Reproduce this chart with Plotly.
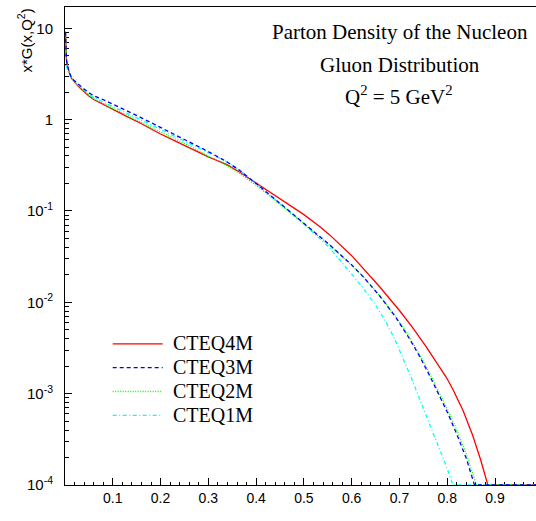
import plotly.graph_objects as go

# ---------------- data ----------------
series_names = ["CTEQ4M", "CTEQ3M", "CTEQ2M", "CTEQ1M"]

x_cteq4m = [0.001, 0.002, 0.003, 0.004, 0.006, 0.008, 0.010, 0.013, 0.018, 0.025,
            0.032, 0.04, 0.05, 0.06, 0.075, 0.09, 0.11, 0.129, 0.16, 0.199,
            0.23, 0.268, 0.30, 0.338, 0.366, 0.408, 0.463, 0.50, 0.533, 0.554,
            0.60, 0.658, 0.70, 0.728, 0.755, 0.777, 0.798, 0.812, 0.833, 0.853,
            0.87, 0.885, 0.95, 1.0]
y_cteq4m = [8.91, 5.13, 4.52, 4.12, 3.63, 3.31, 3.11, 2.87, 2.63, 2.40,
            2.21, 2.02, 1.81, 1.66, 1.51, 1.38, 1.22, 1.087, 0.902, 0.70,
            0.586, 0.47, 0.391, 0.324, 0.265, 0.19, 0.122, 0.0912, 0.0676, 0.0547,
            0.0324, 0.0149, 0.00813, 0.00525, 0.00331, 0.00224, 0.00151, 0.00111, 6.55e-4, 3.52e-4,
            1.88e-4, 1e-4, 1e-4, 1e-4]

x_cteq3m = [0.001, 0.002, 0.003, 0.004, 0.006, 0.008, 0.010, 0.013, 0.018, 0.025,
            0.032, 0.04, 0.05, 0.06, 0.075, 0.09, 0.11, 0.129, 0.16, 0.199,
            0.23, 0.268, 0.30, 0.338, 0.366, 0.408, 0.463, 0.50, 0.533, 0.554,
            0.60, 0.624, 0.66, 0.693, 0.72, 0.742, 0.763, 0.784, 0.80, 0.819,
            0.84, 0.857, 0.90, 0.95, 1.0]
y_cteq3m = [9.18, 5.25, 4.62, 4.22, 3.72, 3.39, 3.20, 2.95, 2.72, 2.51,
            2.34, 2.16, 1.97, 1.83, 1.70, 1.57, 1.40, 1.253, 1.047, 0.826,
            0.692, 0.552, 0.447, 0.348, 0.277, 0.185, 0.107, 0.0741, 0.0526, 0.0425,
            0.0257, 0.0191, 0.0115, 0.00676, 0.00407, 0.00257, 0.00158, 9.5e-4, 6.3e-4, 3.7e-4,
            1.95e-4, 1e-4, 1e-4, 1e-4, 1e-4]

x_cteq2m = [0.001, 0.002, 0.003, 0.004, 0.006, 0.008, 0.010, 0.013, 0.018, 0.025,
            0.032, 0.04, 0.05, 0.06, 0.075, 0.09, 0.11, 0.129, 0.16, 0.199,
            0.23, 0.268, 0.30, 0.338, 0.366, 0.408, 0.463, 0.50, 0.533, 0.554,
            0.60, 0.624, 0.66, 0.693, 0.72, 0.742, 0.763, 0.784, 0.80, 0.819,
            0.84, 0.861, 0.90, 0.95, 1.0]
y_cteq2m = [9.02, 5.19, 4.57, 4.17, 3.67, 3.35, 3.15, 2.90, 2.66, 2.44,
            2.25, 2.06, 1.85, 1.70, 1.55, 1.42, 1.26, 1.12, 0.933, 0.736,
            0.617, 0.492, 0.398, 0.316, 0.257, 0.177, 0.1038, 0.0724, 0.0519, 0.0421,
            0.0256, 0.0191, 0.0116, 0.00692, 0.00422, 0.00269, 0.00168, 0.00102, 6.8e-4, 4.1e-4,
            2.19e-4, 1e-4, 1e-4, 1e-4, 1e-4]

x_cteq1m = [0.002, 0.003, 0.004, 0.006, 0.008, 0.010, 0.013, 0.018, 0.025,
            0.032, 0.04, 0.05, 0.06, 0.075, 0.09, 0.11, 0.129, 0.16, 0.199,
            0.23, 0.268, 0.30, 0.338, 0.366, 0.408, 0.463, 0.50, 0.533, 0.554,
            0.582, 0.624, 0.65, 0.672, 0.69, 0.707, 0.725, 0.757, 0.785, 0.80,
            0.812, 0.86, 0.90, 0.95, 1.0]
y_cteq1m = [3.98, 3.80, 3.63, 3.39, 3.20, 3.05, 2.88, 2.66, 2.45,
            2.28, 2.09, 1.90, 1.75, 1.60, 1.48, 1.32, 1.18, 0.989, 0.785,
            0.658, 0.527, 0.432, 0.347, 0.278, 0.185, 0.106, 0.0724, 0.0501, 0.0393,
            0.0263, 0.01435, 0.00933, 0.00603, 0.00398, 0.00251, 0.00148, 5.6e-4, 2.4e-4, 1.51e-4,
            1e-4, 1e-4, 1e-4, 1e-4, 1e-4]

x_tick_vals = [0.1, 0.2, 0.3, 0.4, 0.5, 0.6, 0.7, 0.8, 0.9]
x_tick_text = ["0.1", "0.2", "0.3", "0.4", "0.5", "0.6", "0.7", "0.8", "0.9"]
y_tick_vals = [1e-4, 1e-3, 1e-2, 1e-1, 1, 10]
y_tick_text = ["10<sup>-4</sup>", "10<sup>-3</sup>", "10<sup>-2</sup>",
               "10<sup>-1</sup>", "1", "10"]

# ---------------- figure ----------------
W, H = 536, 521
ML, MR, MT, MB = 65, 0, 7, 36
PW, PH = W - ML - MR, H - MT - MB

def px_x(p):
    return (p - ML) / PW

def px_y(p):
    return (H - MB - p) / PH

styles = {
    "CTEQ4M": dict(color="#ff0000", dash="solid"),
    "CTEQ3M": dict(color="#0000ff", dash="4px,3px"),
    "CTEQ2M": dict(color="#00ff00", dash="1px,1.5px"),
    "CTEQ1M": dict(color="#00ffff", dash="4px,2.5px,1px,2.5px"),
}
data_by_name = {
    "CTEQ4M": (x_cteq4m, y_cteq4m),
    "CTEQ3M": (x_cteq3m, y_cteq3m),
    "CTEQ2M": (x_cteq2m, y_cteq2m),
    "CTEQ1M": (x_cteq1m, y_cteq1m),
}
draw_order = ["CTEQ4M", "CTEQ1M", "CTEQ2M", "CTEQ3M"]

serif = "Liberation Serif, Times New Roman, serif"
sans = "Liberation Sans, Arial, sans-serif"

fig = go.Figure()
for name in draw_order:
    xs, ys = data_by_name[name]
    st = styles[name]
    label = ('<span style="font-size:21px">\u00a0</span>'
             '<span style="font-size:20px">' + name + '</span>')
    fig.add_trace(go.Scatter(
        x=xs, y=ys, mode="lines", name=label,
        line=dict(color=st["color"], dash=st["dash"], width=1.3),
        legendrank=series_names.index(name) + 1,
    ))

fig.update_xaxes(
    range=[0, (W - ML) / 477.8], showgrid=False, zeroline=False,
    showline=True, linecolor="black", linewidth=1, mirror=True,
    ticks="inside", ticklen=7, tickcolor="black", tickwidth=1,
    tickmode="array", tickvals=x_tick_vals, ticktext=x_tick_text,
    tickfont=dict(family=sans, size=14, color="black"),
    minor=dict(ticks="inside", ticklen=3.5, tickcolor="black", dtick=0.02, tick0=0, showgrid=False),
    layer="below traces",
)
fig.update_yaxes(
    type="log", range=[-4, 1.233], showgrid=False, zeroline=False,
    showline=True, linecolor="black", linewidth=1, mirror=False,
    ticks="inside", ticklen=7, tickcolor="black", tickwidth=1,
    tickmode="array", tickvals=y_tick_vals, ticktext=y_tick_text,
    tickfont=dict(family=sans, size=15, color="black"),
    ticklabelstandoff=8,
    minor=dict(ticks="inside", ticklen=4, tickcolor="black", dtick="D1", showgrid=False),
    layer="below traces",
)

annots = [
    dict(text="Parton Density of the Nucleon", x=px_x(399.5), y=px_y(32), size=21),
    dict(text="Gluon Distribution", x=px_x(400), y=px_y(65), size=21),
    dict(text="Q<sup>2</sup> = 5 GeV<sup>2</sup>", x=px_x(399), y=px_y(95), size=21),
]
for a in annots:
    fig.add_annotation(text=a["text"], x=a["x"], y=a["y"], xref="paper", yref="paper",
                       xanchor="center", yanchor="middle", showarrow=False,
                       font=dict(family=serif, size=a["size"], color="black"))

fig.add_annotation(text="x*G(x,Q<sup>2</sup>)", textangle=-90,
                   x=px_x(13), y=px_y(7), xref="paper", yref="paper",
                   xanchor="left", yanchor="top", showarrow=False,
                   font=dict(family=sans, size=15, color="black"))
fig.add_annotation(text="x", x=px_x(540), y=px_y(505), xref="paper", yref="paper",
                   xanchor="center", yanchor="middle", showarrow=False,
                   font=dict(family=sans, size=12, color="black"))

fig.update_layout(
    width=W, height=H,
    margin=dict(l=ML, r=MR, t=MT, b=MB, pad=0),
    paper_bgcolor="white", plot_bgcolor="white",
    showlegend=True,
    legend=dict(x=px_x(107.7), y=px_y(327), xanchor="left", yanchor="top",
                bgcolor="rgba(0,0,0,0)", borderwidth=0, itemwidth=50,
                traceorder="normal",
                font=dict(family=serif, size=16, color="black")),
)

fig.write_html("out.html")
